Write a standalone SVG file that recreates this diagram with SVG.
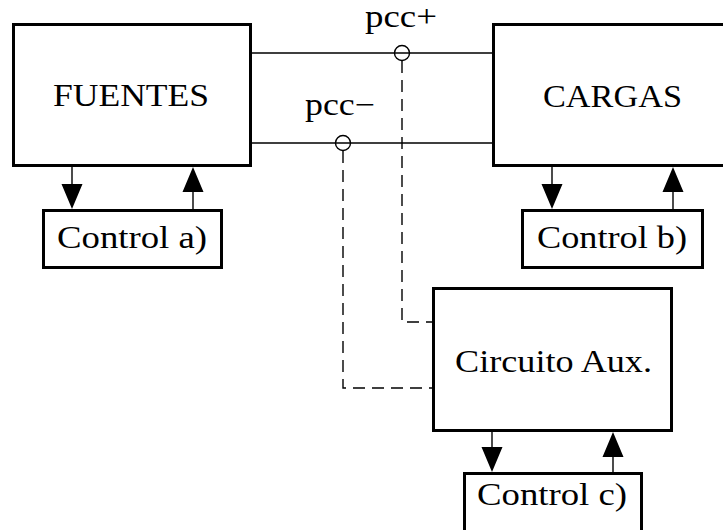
<svg xmlns="http://www.w3.org/2000/svg" width="723" height="530" viewBox="0 0 723 530">
<style>
.box{fill:#fff;stroke:#000;stroke-width:3}
.w{fill:none;stroke:#000;stroke-width:1.4}
.d{fill:none;stroke:#000;stroke-width:1.4;stroke-dasharray:12 7}
.t{font-family:"Liberation Serif","DejaVu Serif",serif;font-size:31px;fill:#000;text-anchor:middle}
.ah{fill:#000}
</style>
<rect width="723" height="530" fill="#fff"/>
<g id="connectors">
<path class="w" d="M252 53H492M252 143H492"/>
<path class="d" d="M402 61V322H432"/>
<path class="d" d="M343 151V388H432"/>
<circle class="w" cx="402" cy="53" r="7.5" fill="#fff" stroke-width="1.6"/>
<circle class="w" cx="343" cy="143" r="7.5" fill="#fff" stroke-width="1.6"/>
<path class="w" d="M72 167V185M193 209V191M552 167V185M673 209V191M492 432V448M613 472V456"/>
<path class="ah" d="M61.5 184H82.5L72 209ZM182.5 192H203.5L193 167ZM541.5 184H562.5L552 209ZM662.5 192H683.5L673 167ZM481.5 447H502.5L492 472ZM602.5 457H623.5L613 432Z"/>
</g>
<g id="fuentes"><rect class="box" x="13.5" y="24.5" width="237" height="141"/><text class="t" x="131" y="106" textLength="156" lengthAdjust="spacingAndGlyphs">FUENTES</text></g>
<g id="cargas"><rect class="box" x="493.5" y="24.5" width="240" height="141"/><text class="t" x="612.5" y="107" textLength="139" lengthAdjust="spacingAndGlyphs">CARGAS</text></g>
<g id="control-a"><rect class="box" x="43.5" y="210.5" width="178" height="57"/><text class="t" x="132" y="248" textLength="150" lengthAdjust="spacingAndGlyphs">Control a)</text></g>
<g id="control-b"><rect class="box" x="522.5" y="210.5" width="180" height="57"/><text class="t" x="612" y="248" textLength="150" lengthAdjust="spacingAndGlyphs">Control b)</text></g>
<g id="circuito"><rect class="box" x="433.5" y="288.5" width="238" height="142"/><text class="t" x="553.5" y="372" textLength="197" lengthAdjust="spacingAndGlyphs">Circuito Aux.</text></g>
<g id="control-c"><rect class="box" x="464.5" y="473.5" width="177" height="70"/><text class="t" x="552" y="505" textLength="150" lengthAdjust="spacingAndGlyphs">Control c)</text></g>
<g id="pcc-plus"><text class="t" x="401" y="27" textLength="72" lengthAdjust="spacingAndGlyphs">pcc+</text></g>
<g id="pcc-minus"><text class="t" x="340" y="115" textLength="70" lengthAdjust="spacingAndGlyphs">pcc−</text></g>
</svg>
